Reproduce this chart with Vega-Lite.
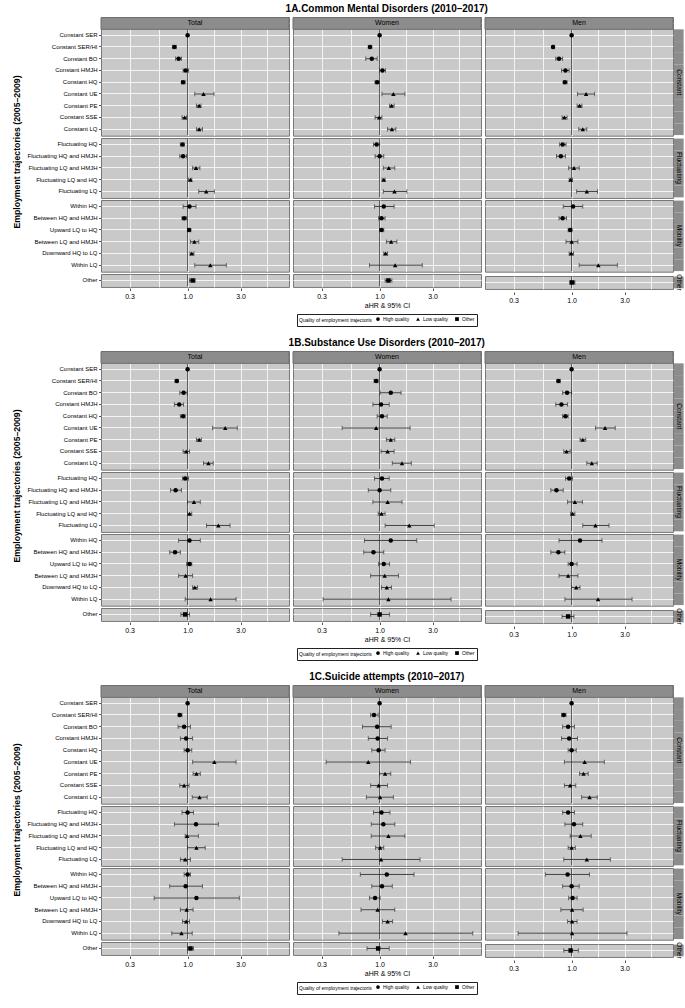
{
"$schema": "https://vega.github.io/schema/vega-lite/v6.json",
"padding": {"left": 13, "top": 3, "right": 1, "bottom": 2},
"background": "white",
"datasets": {"d": [
{"o":"A","s":"Total","g":"Constant","i":"hdr"},
{"o":"A","s":"Total","g":"Constant","i":"Constant SER","q":"High quality","hr":1,"lo":1,"hi":1},
{"o":"A","s":"Total","g":"Constant","i":"Constant SER/HI","q":"High quality","hr":0.76,"lo":0.73,"hi":0.79},
{"o":"A","s":"Total","g":"Constant","i":"Constant BO","q":"High quality","hr":0.83,"lo":0.78,"hi":0.88},
{"o":"A","s":"Total","g":"Constant","i":"Constant HMJH","q":"High quality","hr":0.96,"lo":0.91,"hi":1.02},
{"o":"A","s":"Total","g":"Constant","i":"Constant HQ","q":"High quality","hr":0.91,"lo":0.88,"hi":0.95},
{"o":"A","s":"Total","g":"Constant","i":"Constant UE","q":"Low quality","hr":1.39,"lo":1.16,"hi":1.73},
{"o":"A","s":"Total","g":"Constant","i":"Constant PE","q":"Low quality","hr":1.27,"lo":1.2,"hi":1.32},
{"o":"A","s":"Total","g":"Constant","i":"Constant SSE","q":"Low quality","hr":0.94,"lo":0.89,"hi":0.98},
{"o":"A","s":"Total","g":"Constant","i":"Constant LQ","q":"Low quality","hr":1.27,"lo":1.2,"hi":1.36},
{"o":"A","s":"Total","g":"Fluctuating","i":"Fluctuating HQ","q":"High quality","hr":0.9,"lo":0.86,"hi":0.93},
{"o":"A","s":"Total","g":"Fluctuating","i":"Fluctuating HQ and HMJH","q":"High quality","hr":0.91,"lo":0.85,"hi":0.98},
{"o":"A","s":"Total","g":"Fluctuating","i":"Fluctuating LQ and HMJH","q":"Low quality","hr":1.19,"lo":1.11,"hi":1.29},
{"o":"A","s":"Total","g":"Fluctuating","i":"Fluctuating LQ and HQ","q":"Low quality","hr":1.06,"lo":1.02,"hi":1.09},
{"o":"A","s":"Total","g":"Fluctuating","i":"Fluctuating LQ","q":"Low quality","hr":1.47,"lo":1.26,"hi":1.74},
{"o":"A","s":"Total","g":"Mobility","i":"Within HQ","q":"High quality","hr":1.04,"lo":0.91,"hi":1.19},
{"o":"A","s":"Total","g":"Mobility","i":"Between HQ and HMJH","q":"High quality","hr":0.93,"lo":0.89,"hi":0.98},
{"o":"A","s":"Total","g":"Mobility","i":"Upward LQ to HQ","q":"High quality","hr":1.03,"lo":1.0,"hi":1.07},
{"o":"A","s":"Total","g":"Mobility","i":"Between LQ and HMJH","q":"Low quality","hr":1.15,"lo":1.06,"hi":1.26},
{"o":"A","s":"Total","g":"Mobility","i":"Downward HQ to LQ","q":"Low quality","hr":1.09,"lo":1.05,"hi":1.14},
{"o":"A","s":"Total","g":"Mobility","i":"Within LQ","q":"Low quality","hr":1.6,"lo":1.16,"hi":2.23},
{"o":"A","s":"Total","g":"Other","i":"Other","q":"Other","hr":1.11,"lo":1.04,"hi":1.17},
{"o":"A","s":"Women","g":"Constant","i":"hdr"},
{"o":"A","s":"Women","g":"Constant","i":"Constant SER","q":"High quality","hr":1,"lo":1,"hi":1},
{"o":"A","s":"Women","g":"Constant","i":"Constant SER/HI","q":"High quality","hr":0.82,"lo":0.79,"hi":0.85},
{"o":"A","s":"Women","g":"Constant","i":"Constant BO","q":"High quality","hr":0.85,"lo":0.75,"hi":0.95},
{"o":"A","s":"Women","g":"Constant","i":"Constant HMJH","q":"High quality","hr":1.06,"lo":1.0,"hi":1.13},
{"o":"A","s":"Women","g":"Constant","i":"Constant HQ","q":"High quality","hr":0.95,"lo":0.91,"hi":0.99},
{"o":"A","s":"Women","g":"Constant","i":"Constant UE","q":"Low quality","hr":1.33,"lo":1.05,"hi":1.69},
{"o":"A","s":"Women","g":"Constant","i":"Constant PE","q":"Low quality","hr":1.28,"lo":1.23,"hi":1.35},
{"o":"A","s":"Women","g":"Constant","i":"Constant SSE","q":"Low quality","hr":0.99,"lo":0.91,"hi":1.05},
{"o":"A","s":"Women","g":"Constant","i":"Constant LQ","q":"Low quality","hr":1.29,"lo":1.18,"hi":1.4},
{"o":"A","s":"Women","g":"Fluctuating","i":"Fluctuating HQ","q":"High quality","hr":0.94,"lo":0.88,"hi":1.0},
{"o":"A","s":"Women","g":"Fluctuating","i":"Fluctuating HQ and HMJH","q":"High quality","hr":1.0,"lo":0.91,"hi":1.09},
{"o":"A","s":"Women","g":"Fluctuating","i":"Fluctuating LQ and HMJH","q":"Low quality","hr":1.21,"lo":1.08,"hi":1.37},
{"o":"A","s":"Women","g":"Fluctuating","i":"Fluctuating LQ and HQ","q":"Low quality","hr":1.09,"lo":1.05,"hi":1.12},
{"o":"A","s":"Women","g":"Fluctuating","i":"Fluctuating LQ","q":"Low quality","hr":1.36,"lo":1.08,"hi":1.76},
{"o":"A","s":"Women","g":"Mobility","i":"Within HQ","q":"High quality","hr":1.09,"lo":0.9,"hi":1.35},
{"o":"A","s":"Women","g":"Mobility","i":"Between HQ and HMJH","q":"High quality","hr":1.04,"lo":0.98,"hi":1.12},
{"o":"A","s":"Women","g":"Mobility","i":"Upward LQ to HQ","q":"High quality","hr":1.04,"lo":1.0,"hi":1.09},
{"o":"A","s":"Women","g":"Mobility","i":"Between LQ and HMJH","q":"Low quality","hr":1.27,"lo":1.15,"hi":1.43},
{"o":"A","s":"Women","g":"Mobility","i":"Downward HQ to LQ","q":"Low quality","hr":1.13,"lo":1.09,"hi":1.18},
{"o":"A","s":"Women","g":"Mobility","i":"Within LQ","q":"Low quality","hr":1.38,"lo":0.81,"hi":2.42},
{"o":"A","s":"Women","g":"Other","i":"Other","q":"Other","hr":1.2,"lo":1.12,"hi":1.29},
{"o":"A","s":"Men","g":"Constant","i":"hdr"},
{"o":"A","s":"Men","g":"Constant","i":"Constant SER","q":"High quality","hr":1,"lo":1,"hi":1},
{"o":"A","s":"Men","g":"Constant","i":"Constant SER/HI","q":"High quality","hr":0.68,"lo":0.67,"hi":0.7},
{"o":"A","s":"Men","g":"Constant","i":"Constant BO","q":"High quality","hr":0.77,"lo":0.72,"hi":0.83},
{"o":"A","s":"Men","g":"Constant","i":"Constant HMJH","q":"High quality","hr":0.88,"lo":0.81,"hi":0.95},
{"o":"A","s":"Men","g":"Constant","i":"Constant HQ","q":"High quality","hr":0.87,"lo":0.84,"hi":0.91},
{"o":"A","s":"Men","g":"Constant","i":"Constant UE","q":"Low quality","hr":1.35,"lo":1.13,"hi":1.61},
{"o":"A","s":"Men","g":"Constant","i":"Constant PE","q":"Low quality","hr":1.18,"lo":1.12,"hi":1.24},
{"o":"A","s":"Men","g":"Constant","i":"Constant SSE","q":"Low quality","hr":0.86,"lo":0.82,"hi":0.91},
{"o":"A","s":"Men","g":"Constant","i":"Constant LQ","q":"Low quality","hr":1.26,"lo":1.16,"hi":1.37},
{"o":"A","s":"Men","g":"Fluctuating","i":"Fluctuating HQ","q":"High quality","hr":0.83,"lo":0.78,"hi":0.89},
{"o":"A","s":"Men","g":"Fluctuating","i":"Fluctuating HQ and HMJH","q":"High quality","hr":0.8,"lo":0.73,"hi":0.88},
{"o":"A","s":"Men","g":"Fluctuating","i":"Fluctuating LQ and HMJH","q":"Low quality","hr":1.05,"lo":0.94,"hi":1.17},
{"o":"A","s":"Men","g":"Fluctuating","i":"Fluctuating LQ and HQ","q":"Low quality","hr":0.98,"lo":0.95,"hi":1.02},
{"o":"A","s":"Men","g":"Fluctuating","i":"Fluctuating LQ","q":"Low quality","hr":1.37,"lo":1.11,"hi":1.71},
{"o":"A","s":"Men","g":"Mobility","i":"Within HQ","q":"High quality","hr":1.03,"lo":0.84,"hi":1.26},
{"o":"A","s":"Men","g":"Mobility","i":"Between HQ and HMJH","q":"High quality","hr":0.83,"lo":0.77,"hi":0.9},
{"o":"A","s":"Men","g":"Mobility","i":"Upward LQ to HQ","q":"High quality","hr":0.97,"lo":0.93,"hi":1.01},
{"o":"A","s":"Men","g":"Mobility","i":"Between LQ and HMJH","q":"Low quality","hr":1.0,"lo":0.89,"hi":1.14},
{"o":"A","s":"Men","g":"Mobility","i":"Downward HQ to LQ","q":"Low quality","hr":0.99,"lo":0.95,"hi":1.04},
{"o":"A","s":"Men","g":"Mobility","i":"Within LQ","q":"Low quality","hr":1.74,"lo":1.17,"hi":2.58},
{"o":"A","s":"Men","g":"Other","i":"Other","q":"Other","hr":1.01,"lo":0.96,"hi":1.07},
{"o":"B","s":"Total","g":"Constant","i":"hdr"},
{"o":"B","s":"Total","g":"Constant","i":"Constant SER","q":"High quality","hr":1,"lo":1,"hi":1},
{"o":"B","s":"Total","g":"Constant","i":"Constant SER/HI","q":"High quality","hr":0.8,"lo":0.77,"hi":0.82},
{"o":"B","s":"Total","g":"Constant","i":"Constant BO","q":"High quality","hr":0.92,"lo":0.85,"hi":0.99},
{"o":"B","s":"Total","g":"Constant","i":"Constant HMJH","q":"High quality","hr":0.84,"lo":0.76,"hi":0.92},
{"o":"B","s":"Total","g":"Constant","i":"Constant HQ","q":"High quality","hr":0.91,"lo":0.86,"hi":0.95},
{"o":"B","s":"Total","g":"Constant","i":"Constant UE","q":"Low quality","hr":2.18,"lo":1.68,"hi":2.8},
{"o":"B","s":"Total","g":"Constant","i":"Constant PE","q":"Low quality","hr":1.27,"lo":1.2,"hi":1.33},
{"o":"B","s":"Total","g":"Constant","i":"Constant SSE","q":"Low quality","hr":0.97,"lo":0.91,"hi":1.04},
{"o":"B","s":"Total","g":"Constant","i":"Constant LQ","q":"Low quality","hr":1.54,"lo":1.39,"hi":1.7},
{"o":"B","s":"Total","g":"Fluctuating","i":"Fluctuating HQ","q":"High quality","hr":0.95,"lo":0.9,"hi":1.02},
{"o":"B","s":"Total","g":"Fluctuating","i":"Fluctuating HQ and HMJH","q":"High quality","hr":0.78,"lo":0.7,"hi":0.88},
{"o":"B","s":"Total","g":"Fluctuating","i":"Fluctuating LQ and HMJH","q":"Low quality","hr":1.14,"lo":1.0,"hi":1.3},
{"o":"B","s":"Total","g":"Fluctuating","i":"Fluctuating LQ and HQ","q":"Low quality","hr":1.04,"lo":1.0,"hi":1.09},
{"o":"B","s":"Total","g":"Fluctuating","i":"Fluctuating LQ","q":"Low quality","hr":1.89,"lo":1.48,"hi":2.41},
{"o":"B","s":"Total","g":"Mobility","i":"Within HQ","q":"High quality","hr":1.04,"lo":0.83,"hi":1.3},
{"o":"B","s":"Total","g":"Mobility","i":"Between HQ and HMJH","q":"High quality","hr":0.77,"lo":0.69,"hi":0.86},
{"o":"B","s":"Total","g":"Mobility","i":"Upward LQ to HQ","q":"High quality","hr":1.04,"lo":0.98,"hi":1.09},
{"o":"B","s":"Total","g":"Mobility","i":"Between LQ and HMJH","q":"Low quality","hr":0.96,"lo":0.83,"hi":1.11},
{"o":"B","s":"Total","g":"Mobility","i":"Downward HQ to LQ","q":"Low quality","hr":1.16,"lo":1.11,"hi":1.23},
{"o":"B","s":"Total","g":"Mobility","i":"Within LQ","q":"Low quality","hr":1.61,"lo":0.95,"hi":2.73},
{"o":"B","s":"Total","g":"Other","i":"Other","q":"Other","hr":0.95,"lo":0.87,"hi":1.04},
{"o":"B","s":"Women","g":"Constant","i":"hdr"},
{"o":"B","s":"Women","g":"Constant","i":"Constant SER","q":"High quality","hr":1,"lo":1,"hi":1},
{"o":"B","s":"Women","g":"Constant","i":"Constant SER/HI","q":"High quality","hr":0.93,"lo":0.89,"hi":0.97},
{"o":"B","s":"Women","g":"Constant","i":"Constant BO","q":"High quality","hr":1.26,"lo":1.01,"hi":1.56},
{"o":"B","s":"Women","g":"Constant","i":"Constant HMJH","q":"High quality","hr":1.03,"lo":0.87,"hi":1.22},
{"o":"B","s":"Women","g":"Constant","i":"Constant HQ","q":"High quality","hr":1.05,"lo":0.95,"hi":1.17},
{"o":"B","s":"Women","g":"Constant","i":"Constant UE","q":"Low quality","hr":0.93,"lo":0.46,"hi":1.88},
{"o":"B","s":"Women","g":"Constant","i":"Constant PE","q":"Low quality","hr":1.26,"lo":1.15,"hi":1.37},
{"o":"B","s":"Women","g":"Constant","i":"Constant SSE","q":"Low quality","hr":1.18,"lo":1.03,"hi":1.35},
{"o":"B","s":"Women","g":"Constant","i":"Constant LQ","q":"Low quality","hr":1.59,"lo":1.3,"hi":1.93},
{"o":"B","s":"Women","g":"Fluctuating","i":"Fluctuating HQ","q":"High quality","hr":1.05,"lo":0.9,"hi":1.22},
{"o":"B","s":"Women","g":"Fluctuating","i":"Fluctuating HQ and HMJH","q":"High quality","hr":1.0,"lo":0.79,"hi":1.26},
{"o":"B","s":"Women","g":"Fluctuating","i":"Fluctuating LQ and HMJH","q":"Low quality","hr":1.18,"lo":0.87,"hi":1.59},
{"o":"B","s":"Women","g":"Fluctuating","i":"Fluctuating LQ and HQ","q":"Low quality","hr":1.04,"lo":0.97,"hi":1.12},
{"o":"B","s":"Women","g":"Fluctuating","i":"Fluctuating LQ","q":"Low quality","hr":1.85,"lo":1.12,"hi":3.1},
{"o":"B","s":"Women","g":"Mobility","i":"Within HQ","q":"High quality","hr":1.26,"lo":0.73,"hi":2.16},
{"o":"B","s":"Women","g":"Mobility","i":"Between HQ and HMJH","q":"High quality","hr":0.88,"lo":0.72,"hi":1.09},
{"o":"B","s":"Women","g":"Mobility","i":"Upward LQ to HQ","q":"High quality","hr":1.09,"lo":0.98,"hi":1.23},
{"o":"B","s":"Women","g":"Mobility","i":"Between LQ and HMJH","q":"Low quality","hr":1.11,"lo":0.83,"hi":1.48},
{"o":"B","s":"Women","g":"Mobility","i":"Downward HQ to LQ","q":"Low quality","hr":1.16,"lo":1.04,"hi":1.28},
{"o":"B","s":"Women","g":"Mobility","i":"Within LQ","q":"Low quality","hr":1.2,"lo":0.31,"hi":4.4},
{"o":"B","s":"Women","g":"Other","i":"Other","q":"Other","hr":1.0,"lo":0.83,"hi":1.23},
{"o":"B","s":"Men","g":"Constant","i":"hdr"},
{"o":"B","s":"Men","g":"Constant","i":"Constant SER","q":"High quality","hr":1,"lo":1,"hi":1},
{"o":"B","s":"Men","g":"Constant","i":"Constant SER/HI","q":"High quality","hr":0.76,"lo":0.74,"hi":0.79},
{"o":"B","s":"Men","g":"Constant","i":"Constant BO","q":"High quality","hr":0.91,"lo":0.83,"hi":1.0},
{"o":"B","s":"Men","g":"Constant","i":"Constant HMJH","q":"High quality","hr":0.81,"lo":0.72,"hi":0.92},
{"o":"B","s":"Men","g":"Constant","i":"Constant HQ","q":"High quality","hr":0.88,"lo":0.83,"hi":0.93},
{"o":"B","s":"Men","g":"Constant","i":"Constant UE","q":"Low quality","hr":2.0,"lo":1.64,"hi":2.47},
{"o":"B","s":"Men","g":"Constant","i":"Constant PE","q":"Low quality","hr":1.26,"lo":1.19,"hi":1.34},
{"o":"B","s":"Men","g":"Constant","i":"Constant SSE","q":"Low quality","hr":0.9,"lo":0.85,"hi":0.97},
{"o":"B","s":"Men","g":"Constant","i":"Constant LQ","q":"Low quality","hr":1.52,"lo":1.37,"hi":1.7},
{"o":"B","s":"Men","g":"Fluctuating","i":"Fluctuating HQ","q":"High quality","hr":0.95,"lo":0.88,"hi":1.02},
{"o":"B","s":"Men","g":"Fluctuating","i":"Fluctuating HQ and HMJH","q":"High quality","hr":0.73,"lo":0.65,"hi":0.84},
{"o":"B","s":"Men","g":"Fluctuating","i":"Fluctuating LQ and HMJH","q":"Low quality","hr":1.07,"lo":0.92,"hi":1.25},
{"o":"B","s":"Men","g":"Fluctuating","i":"Fluctuating LQ and HQ","q":"Low quality","hr":1.02,"lo":0.98,"hi":1.07},
{"o":"B","s":"Men","g":"Fluctuating","i":"Fluctuating LQ","q":"Low quality","hr":1.64,"lo":1.26,"hi":2.17},
{"o":"B","s":"Men","g":"Mobility","i":"Within HQ","q":"High quality","hr":1.19,"lo":0.77,"hi":1.88},
{"o":"B","s":"Men","g":"Mobility","i":"Between HQ and HMJH","q":"High quality","hr":0.76,"lo":0.65,"hi":0.87},
{"o":"B","s":"Men","g":"Mobility","i":"Upward LQ to HQ","q":"High quality","hr":1.0,"lo":0.93,"hi":1.12},
{"o":"B","s":"Men","g":"Mobility","i":"Between LQ and HMJH","q":"Low quality","hr":0.93,"lo":0.77,"hi":1.14},
{"o":"B","s":"Men","g":"Mobility","i":"Downward HQ to LQ","q":"Low quality","hr":1.1,"lo":1.0,"hi":1.19},
{"o":"B","s":"Men","g":"Mobility","i":"Within LQ","q":"Low quality","hr":1.73,"lo":0.87,"hi":3.5},
{"o":"B","s":"Men","g":"Other","i":"Other","q":"Other","hr":0.93,"lo":0.82,"hi":1.05},
{"o":"C","s":"Total","g":"Constant","i":"hdr"},
{"o":"C","s":"Total","g":"Constant","i":"Constant SER","q":"High quality","hr":1,"lo":1,"hi":1},
{"o":"C","s":"Total","g":"Constant","i":"Constant SER/HI","q":"High quality","hr":0.85,"lo":0.82,"hi":0.89},
{"o":"C","s":"Total","g":"Constant","i":"Constant BO","q":"High quality","hr":0.93,"lo":0.82,"hi":1.06},
{"o":"C","s":"Total","g":"Constant","i":"Constant HMJH","q":"High quality","hr":0.97,"lo":0.86,"hi":1.11},
{"o":"C","s":"Total","g":"Constant","i":"Constant HQ","q":"High quality","hr":1.0,"lo":0.93,"hi":1.09},
{"o":"C","s":"Total","g":"Constant","i":"Constant UE","q":"Low quality","hr":1.74,"lo":1.11,"hi":2.73},
{"o":"C","s":"Total","g":"Constant","i":"Constant PE","q":"Low quality","hr":1.2,"lo":1.12,"hi":1.3},
{"o":"C","s":"Total","g":"Constant","i":"Constant SSE","q":"Low quality","hr":0.93,"lo":0.85,"hi":1.03},
{"o":"C","s":"Total","g":"Constant","i":"Constant LQ","q":"Low quality","hr":1.28,"lo":1.1,"hi":1.5},
{"o":"C","s":"Total","g":"Fluctuating","i":"Fluctuating HQ","q":"High quality","hr":1.0,"lo":0.89,"hi":1.13},
{"o":"C","s":"Total","g":"Fluctuating","i":"Fluctuating HQ and HMJH","q":"High quality","hr":1.19,"lo":0.76,"hi":1.89},
{"o":"C","s":"Total","g":"Fluctuating","i":"Fluctuating LQ and HMJH","q":"Low quality","hr":0.99,"lo":0.95,"hi":1.25},
{"o":"C","s":"Total","g":"Fluctuating","i":"Fluctuating LQ and HQ","q":"Low quality","hr":1.2,"lo":1.0,"hi":1.44},
{"o":"C","s":"Total","g":"Fluctuating","i":"Fluctuating LQ","q":"Low quality","hr":0.95,"lo":0.86,"hi":1.06},
{"o":"C","s":"Total","g":"Mobility","i":"Within HQ","q":"High quality","hr":1.0,"lo":0.93,"hi":1.06},
{"o":"C","s":"Total","g":"Mobility","i":"Between HQ and HMJH","q":"High quality","hr":0.96,"lo":0.69,"hi":1.36},
{"o":"C","s":"Total","g":"Mobility","i":"Upward LQ to HQ","q":"High quality","hr":1.2,"lo":0.5,"hi":2.92},
{"o":"C","s":"Total","g":"Mobility","i":"Between LQ and HMJH","q":"Low quality","hr":0.98,"lo":0.86,"hi":1.12},
{"o":"C","s":"Total","g":"Mobility","i":"Downward HQ to LQ","q":"Low quality","hr":0.97,"lo":0.9,"hi":1.04},
{"o":"C","s":"Total","g":"Mobility","i":"Within LQ","q":"Low quality","hr":0.88,"lo":0.72,"hi":1.1},
{"o":"C","s":"Total","g":"Other","i":"Other","q":"Other","hr":1.06,"lo":1.0,"hi":1.13},
{"o":"C","s":"Women","g":"Constant","i":"hdr"},
{"o":"C","s":"Women","g":"Constant","i":"Constant SER","q":"High quality","hr":1,"lo":1,"hi":1},
{"o":"C","s":"Women","g":"Constant","i":"Constant SER/HI","q":"High quality","hr":0.89,"lo":0.83,"hi":0.97},
{"o":"C","s":"Women","g":"Constant","i":"Constant BO","q":"High quality","hr":0.95,"lo":0.7,"hi":1.27},
{"o":"C","s":"Women","g":"Constant","i":"Constant HMJH","q":"High quality","hr":0.96,"lo":0.79,"hi":1.18},
{"o":"C","s":"Women","g":"Constant","i":"Constant HQ","q":"High quality","hr":0.98,"lo":0.85,"hi":1.12},
{"o":"C","s":"Women","g":"Constant","i":"Constant UE","q":"Low quality","hr":0.79,"lo":0.33,"hi":1.9},
{"o":"C","s":"Women","g":"Constant","i":"Constant PE","q":"Low quality","hr":1.12,"lo":1.0,"hi":1.26},
{"o":"C","s":"Women","g":"Constant","i":"Constant SSE","q":"Low quality","hr":0.98,"lo":0.83,"hi":1.18},
{"o":"C","s":"Women","g":"Constant","i":"Constant LQ","q":"Low quality","hr":1.01,"lo":0.76,"hi":1.33},
{"o":"C","s":"Women","g":"Fluctuating","i":"Fluctuating HQ","q":"High quality","hr":1.04,"lo":0.88,"hi":1.24},
{"o":"C","s":"Women","g":"Fluctuating","i":"Fluctuating HQ and HMJH","q":"High quality","hr":1.08,"lo":0.84,"hi":1.37},
{"o":"C","s":"Women","g":"Fluctuating","i":"Fluctuating LQ and HMJH","q":"Low quality","hr":1.2,"lo":0.84,"hi":1.69},
{"o":"C","s":"Women","g":"Fluctuating","i":"Fluctuating LQ and HQ","q":"Low quality","hr":1.01,"lo":0.92,"hi":1.09},
{"o":"C","s":"Women","g":"Fluctuating","i":"Fluctuating LQ","q":"Low quality","hr":1.03,"lo":0.46,"hi":2.31},
{"o":"C","s":"Women","g":"Mobility","i":"Within HQ","q":"High quality","hr":1.16,"lo":0.67,"hi":2.04},
{"o":"C","s":"Women","g":"Mobility","i":"Between HQ and HMJH","q":"High quality","hr":1.05,"lo":0.85,"hi":1.3},
{"o":"C","s":"Women","g":"Mobility","i":"Upward LQ to HQ","q":"High quality","hr":0.91,"lo":0.81,"hi":1.01},
{"o":"C","s":"Women","g":"Mobility","i":"Between LQ and HMJH","q":"Low quality","hr":0.96,"lo":0.68,"hi":1.37},
{"o":"C","s":"Women","g":"Mobility","i":"Downward HQ to LQ","q":"Low quality","hr":1.18,"lo":1.06,"hi":1.31},
{"o":"C","s":"Women","g":"Mobility","i":"Within LQ","q":"Low quality","hr":1.71,"lo":0.43,"hi":6.9},
{"o":"C","s":"Women","g":"Other","i":"Other","q":"Other","hr":0.97,"lo":0.77,"hi":1.22},
{"o":"C","s":"Men","g":"Constant","i":"hdr"},
{"o":"C","s":"Men","g":"Constant","i":"Constant SER","q":"High quality","hr":1,"lo":1,"hi":1},
{"o":"C","s":"Men","g":"Constant","i":"Constant SER/HI","q":"High quality","hr":0.85,"lo":0.81,"hi":0.89},
{"o":"C","s":"Men","g":"Constant","i":"Constant BO","q":"High quality","hr":0.93,"lo":0.83,"hi":1.06},
{"o":"C","s":"Men","g":"Constant","i":"Constant HMJH","q":"High quality","hr":0.95,"lo":0.81,"hi":1.13},
{"o":"C","s":"Men","g":"Constant","i":"Constant HQ","q":"High quality","hr":1.0,"lo":0.93,"hi":1.1},
{"o":"C","s":"Men","g":"Constant","i":"Constant UE","q":"Low quality","hr":1.31,"lo":0.86,"hi":1.97},
{"o":"C","s":"Men","g":"Constant","i":"Constant PE","q":"Low quality","hr":1.28,"lo":1.18,"hi":1.41},
{"o":"C","s":"Men","g":"Constant","i":"Constant SSE","q":"Low quality","hr":0.97,"lo":0.86,"hi":1.09},
{"o":"C","s":"Men","g":"Constant","i":"Constant LQ","q":"Low quality","hr":1.45,"lo":1.23,"hi":1.7},
{"o":"C","s":"Men","g":"Fluctuating","i":"Fluctuating HQ","q":"High quality","hr":0.93,"lo":0.83,"hi":1.06},
{"o":"C","s":"Men","g":"Fluctuating","i":"Fluctuating HQ and HMJH","q":"High quality","hr":1.05,"lo":0.87,"hi":1.26},
{"o":"C","s":"Men","g":"Fluctuating","i":"Fluctuating LQ and HMJH","q":"Low quality","hr":1.2,"lo":0.97,"hi":1.5},
{"o":"C","s":"Men","g":"Fluctuating","i":"Fluctuating LQ and HQ","q":"Low quality","hr":1.0,"lo":0.93,"hi":1.08},
{"o":"C","s":"Men","g":"Fluctuating","i":"Fluctuating LQ","q":"Low quality","hr":1.37,"lo":0.85,"hi":2.23},
{"o":"C","s":"Men","g":"Mobility","i":"Within HQ","q":"High quality","hr":0.92,"lo":0.58,"hi":1.45},
{"o":"C","s":"Men","g":"Mobility","i":"Between HQ and HMJH","q":"High quality","hr":1.0,"lo":0.83,"hi":1.17},
{"o":"C","s":"Men","g":"Mobility","i":"Upward LQ to HQ","q":"High quality","hr":1.02,"lo":0.94,"hi":1.12},
{"o":"C","s":"Men","g":"Mobility","i":"Between LQ and HMJH","q":"Low quality","hr":1.01,"lo":0.8,"hi":1.27},
{"o":"C","s":"Men","g":"Mobility","i":"Downward HQ to LQ","q":"Low quality","hr":1.01,"lo":0.92,"hi":1.12},
{"o":"C","s":"Men","g":"Mobility","i":"Within LQ","q":"Low quality","hr":1.01,"lo":0.33,"hi":3.15},
{"o":"C","s":"Men","g":"Other","i":"Other","q":"Other","hr":0.98,"lo":0.85,"hi":1.15}
]},
"data": {"name": "d"},
"spacing": 10,
"resolve": {"scale": {"shape": "independent"}, "legend": {"shape": "independent"}},
"vconcat": [
{"title": {"text": "1A.Common Mental Disorders (2010–2017)", "dx": 38}, "spacing": 2, "resolve": {"scale": {"shape": "independent"}, "legend": {"shape": "independent"}}, "hconcat": [
{"transform": [{"filter": "datum.o == 'A' && datum.s == 'Total'"}],
 "facet": {"row": {"field": "g", "type": "nominal", "sort": ["Constant","Fluctuating","Mobility","Other"], "header": {"labels": false, "labelPadding": 0, "title": "Employment trajectories (2005–2009)", "titleOrient": "left", "titleAngle": -90, "titleFontSize": 8.7, "titleFontWeight": "bold", "titlePadding": -15}}},
 "spacing": 0, "resolve": {"scale": {"y": "independent"}},
 "spec": {"width": 188, "height": {"step": 11.75},
  "encoding": {"y": {"field": "i", "type": "nominal", "sort": ["hdr","Constant SER","Constant SER/HI","Constant BO","Constant HMJH","Constant HQ","Constant UE","Constant PE","Constant SSE","Constant LQ","Fluctuating HQ","Fluctuating HQ and HMJH","Fluctuating LQ and HMJH","Fluctuating LQ and HQ","Fluctuating LQ","Within HQ","Between HQ and HMJH","Upward LQ to HQ","Between LQ and HMJH","Downward HQ to LQ","Within LQ","Other"], "scale": {"type": "band", "paddingInner": 0, "paddingOuter": 0.05}, "axis": {"title": null, "bandPosition": 0.5, "labelFontSize": 6, "labelLimit": 200, "labelExpr": "datum.value == 'hdr' ? '' : datum.value", "tickOpacity": {"condition": {"test": "datum.value == 'hdr'", "value": 0}, "value": 1}}}},
  "layer": [
   {"mark": {"type": "tick", "color": "#1a1a1a", "thickness": 1, "size": 11.75}, "encoding": {"x": {"datum": 1}}},
   {"transform": [{"filter": "datum.i != 'hdr'"}], "mark": {"type": "errorbar", "ticks": {"size": 4.5}, "color": "#2b2b2b", "thickness": 0.9}, "encoding": {"x": {"field": "lo", "type": "quantitative", "title": null}, "x2": {"field": "hi"}}},
   {"transform": [{"filter": "datum.i != 'hdr'"}], "mark": {"type": "point", "filled": true, "opacity": 1, "size": 20, "color": "black"}, "encoding": {"x": {"field": "hr", "type": "quantitative", "scale": {"type": "log", "domain": [0.166, 8.18], "nice": false}, "axis": {"title": null, "values": [0.3,0.548,1,1.732,3,5.196], "labelExpr": "(datum.value == 0.3 || datum.value == 1 || datum.value == 3) ? format(datum.value, '.1f') : ''", "tickOpacity": {"condition": {"test": "datum.value == 0.3 || datum.value == 1 || datum.value == 3", "value": 1}, "value": 0}}}, "shape": {"field": "q", "type": "nominal", "scale": {"domain": ["High quality","Low quality","Other"], "range": ["circle","triangle-up","square"]}, "legend": null}}},
   {"transform": [{"filter": "datum.i == 'hdr'"}], "mark": {"type": "rect", "fill": "#8c8c8c", "stroke": "#6e6e6e", "strokeWidth": 1}, "encoding": {"x": {"datum": 0.166}, "x2": {"datum": 8.18}}},
   {"transform": [{"filter": "datum.i == 'hdr'"}], "mark": {"type": "text", "fontSize": 7, "color": "black", "baseline": "middle"}, "encoding": {"x": {"datum": 1.165}, "text": {"field": "s"}}}
  ]}},
{"transform": [{"filter": "datum.o == 'A' && datum.s == 'Women'"}],
 "facet": {"row": {"field": "g", "type": "nominal", "sort": ["Constant","Fluctuating","Mobility","Other"], "header": {"labels": false, "labelPadding": 0, "title": null}}},
 "spacing": 0, "resolve": {"scale": {"y": "independent"}},
 "spec": {"width": 188, "height": {"step": 11.75},
  "encoding": {"y": {"field": "i", "type": "nominal", "sort": ["hdr","Constant SER","Constant SER/HI","Constant BO","Constant HMJH","Constant HQ","Constant UE","Constant PE","Constant SSE","Constant LQ","Fluctuating HQ","Fluctuating HQ and HMJH","Fluctuating LQ and HMJH","Fluctuating LQ and HQ","Fluctuating LQ","Within HQ","Between HQ and HMJH","Upward LQ to HQ","Between LQ and HMJH","Downward HQ to LQ","Within LQ","Other"], "scale": {"type": "band", "paddingInner": 0, "paddingOuter": 0.05}, "axis": {"title": null, "bandPosition": 0.5, "labels": false, "ticks": false}}},
  "layer": [
   {"mark": {"type": "tick", "color": "#1a1a1a", "thickness": 1, "size": 11.75}, "encoding": {"x": {"datum": 1}}},
   {"transform": [{"filter": "datum.i != 'hdr'"}], "mark": {"type": "errorbar", "ticks": {"size": 4.5}, "color": "#2b2b2b", "thickness": 0.9}, "encoding": {"x": {"field": "lo", "type": "quantitative", "title": "aHR & 95% CI"}, "x2": {"field": "hi"}}},
   {"transform": [{"filter": "datum.i != 'hdr'"}], "mark": {"type": "point", "filled": true, "opacity": 1, "size": 20, "color": "black"}, "encoding": {"x": {"field": "hr", "type": "quantitative", "scale": {"type": "log", "domain": [0.166, 8.18], "nice": false}, "axis": {"title": "aHR & 95% CI", "values": [0.3,0.548,1,1.732,3,5.196], "labelExpr": "(datum.value == 0.3 || datum.value == 1 || datum.value == 3) ? format(datum.value, '.1f') : ''", "tickOpacity": {"condition": {"test": "datum.value == 0.3 || datum.value == 1 || datum.value == 3", "value": 1}, "value": 0}}}, "shape": {"field": "q", "type": "nominal", "scale": {"domain": ["High quality","Low quality","Other"], "range": ["circle","triangle-up","square"]}, "legend": {"title": "Quality of employment trajectoris"}}}},
   {"transform": [{"filter": "datum.i == 'hdr'"}], "mark": {"type": "rect", "fill": "#8c8c8c", "stroke": "#6e6e6e", "strokeWidth": 1}, "encoding": {"x": {"datum": 0.166}, "x2": {"datum": 8.18}}},
   {"transform": [{"filter": "datum.i == 'hdr'"}], "mark": {"type": "text", "fontSize": 7, "color": "black", "baseline": "middle"}, "encoding": {"x": {"datum": 1.165}, "text": {"field": "s"}}}
  ]}},
{"transform": [{"filter": "datum.o == 'A' && datum.s == 'Men'"}],
 "facet": {"row": {"field": "g", "type": "nominal", "sort": ["Constant","Fluctuating","Mobility","Other"], "header": {"labels": false, "labelPadding": 0, "title": null}}},
 "spacing": 0, "resolve": {"scale": {"y": "independent"}},
 "spec": {"width": 188, "height": {"step": 11.75},
  "encoding": {"y": {"field": "i", "type": "nominal", "sort": ["hdr","Constant SER","Constant SER/HI","Constant BO","Constant HMJH","Constant HQ","Constant UE","Constant PE","Constant SSE","Constant LQ","Fluctuating HQ","Fluctuating HQ and HMJH","Fluctuating LQ and HMJH","Fluctuating LQ and HQ","Fluctuating LQ","Within HQ","Between HQ and HMJH","Upward LQ to HQ","Between LQ and HMJH","Downward HQ to LQ","Within LQ","Other"], "scale": {"type": "band", "paddingInner": 0, "paddingOuter": 0.05}, "axis": {"title": null, "bandPosition": 0.5, "labels": false, "ticks": false}}},
  "layer": [
   {"mark": {"type": "tick", "color": "#1a1a1a", "thickness": 1, "size": 11.75}, "encoding": {"x": {"datum": 1}}},
   {"transform": [{"filter": "datum.i != 'hdr'"}], "mark": {"type": "errorbar", "ticks": {"size": 4.5}, "color": "#2b2b2b", "thickness": 0.9}, "encoding": {"x": {"field": "lo", "type": "quantitative", "title": null}, "x2": {"field": "hi"}}},
   {"transform": [{"filter": "datum.i != 'hdr'"}], "mark": {"type": "point", "filled": true, "opacity": 1, "size": 20, "color": "black"}, "encoding": {"x": {"field": "hr", "type": "quantitative", "scale": {"type": "log", "domain": [0.166, 8.18], "nice": false}, "axis": {"title": null, "values": [0.3,0.548,1,1.732,3,5.196], "labelExpr": "(datum.value == 0.3 || datum.value == 1 || datum.value == 3) ? format(datum.value, '.1f') : ''", "tickOpacity": {"condition": {"test": "datum.value == 0.3 || datum.value == 1 || datum.value == 3", "value": 1}, "value": 0}}}, "shape": {"field": "q", "type": "nominal", "scale": {"domain": ["High quality","Low quality","Other"], "range": ["circle","triangle-up","square"]}, "legend": null}}},
   {"transform": [{"filter": "datum.i == 'hdr'"}], "mark": {"type": "rect", "fill": "#8c8c8c", "stroke": "#6e6e6e", "strokeWidth": 1}, "encoding": {"x": {"datum": 0.166}, "x2": {"datum": 8.18}}},
   {"transform": [{"filter": "datum.i == 'hdr'"}], "mark": {"type": "text", "fontSize": 7, "color": "black", "baseline": "middle"}, "encoding": {"x": {"datum": 1.165}, "text": {"field": "s"}}},
   {"transform": [{"filter": "datum.i != 'hdr'"}], "mark": {"type": "rect", "clip": false, "fill": "#8c8c8c", "strokeWidth": 0}, "encoding": {"x": {"datum": 8.35}, "x2": {"datum": 10.2}}},
   {"transform": [{"filter": "datum.i == 'Constant HQ' || datum.i == 'Fluctuating LQ and HMJH' || datum.i == 'Other'"}], "mark": {"type": "text", "angle": 90, "fontSize": 6.5, "color": "black", "baseline": "middle", "align": "center"}, "encoding": {"x": {"datum": 9.23}, "text": {"field": "g"}}},
   {"transform": [{"filter": "datum.i == 'Upward LQ to HQ'"}], "mark": {"type": "text", "angle": 90, "fontSize": 6.5, "color": "black", "baseline": "middle", "align": "center"}, "encoding": {"x": {"datum": 9.23}, "y": {"field": "i", "type": "nominal", "sort": ["hdr","Constant SER","Constant SER/HI","Constant BO","Constant HMJH","Constant HQ","Constant UE","Constant PE","Constant SSE","Constant LQ","Fluctuating HQ","Fluctuating HQ and HMJH","Fluctuating LQ and HMJH","Fluctuating LQ and HQ","Fluctuating LQ","Within HQ","Between HQ and HMJH","Upward LQ to HQ","Between LQ and HMJH","Downward HQ to LQ","Within LQ","Other"], "bandPosition": 1}, "text": {"field": "g"}}}
  ]}}
]},
{"title": {"text": "1B.Substance Use Disorders (2010–2017)", "dx": 38}, "spacing": 2, "resolve": {"scale": {"shape": "independent"}, "legend": {"shape": "independent"}}, "hconcat": [
{"transform": [{"filter": "datum.o == 'B' && datum.s == 'Total'"}],
 "facet": {"row": {"field": "g", "type": "nominal", "sort": ["Constant","Fluctuating","Mobility","Other"], "header": {"labels": false, "labelPadding": 0, "title": "Employment trajectories (2005–2009)", "titleOrient": "left", "titleAngle": -90, "titleFontSize": 8.7, "titleFontWeight": "bold", "titlePadding": -15}}},
 "spacing": 0, "resolve": {"scale": {"y": "independent"}},
 "spec": {"width": 188, "height": {"step": 11.75},
  "encoding": {"y": {"field": "i", "type": "nominal", "sort": ["hdr","Constant SER","Constant SER/HI","Constant BO","Constant HMJH","Constant HQ","Constant UE","Constant PE","Constant SSE","Constant LQ","Fluctuating HQ","Fluctuating HQ and HMJH","Fluctuating LQ and HMJH","Fluctuating LQ and HQ","Fluctuating LQ","Within HQ","Between HQ and HMJH","Upward LQ to HQ","Between LQ and HMJH","Downward HQ to LQ","Within LQ","Other"], "scale": {"type": "band", "paddingInner": 0, "paddingOuter": 0.05}, "axis": {"title": null, "bandPosition": 0.5, "labelFontSize": 6, "labelLimit": 200, "labelExpr": "datum.value == 'hdr' ? '' : datum.value", "tickOpacity": {"condition": {"test": "datum.value == 'hdr'", "value": 0}, "value": 1}}}},
  "layer": [
   {"mark": {"type": "tick", "color": "#1a1a1a", "thickness": 1, "size": 11.75}, "encoding": {"x": {"datum": 1}}},
   {"transform": [{"filter": "datum.i != 'hdr'"}], "mark": {"type": "errorbar", "ticks": {"size": 4.5}, "color": "#2b2b2b", "thickness": 0.9}, "encoding": {"x": {"field": "lo", "type": "quantitative", "title": null}, "x2": {"field": "hi"}}},
   {"transform": [{"filter": "datum.i != 'hdr'"}], "mark": {"type": "point", "filled": true, "opacity": 1, "size": 20, "color": "black"}, "encoding": {"x": {"field": "hr", "type": "quantitative", "scale": {"type": "log", "domain": [0.166, 8.18], "nice": false}, "axis": {"title": null, "values": [0.3,0.548,1,1.732,3,5.196], "labelExpr": "(datum.value == 0.3 || datum.value == 1 || datum.value == 3) ? format(datum.value, '.1f') : ''", "tickOpacity": {"condition": {"test": "datum.value == 0.3 || datum.value == 1 || datum.value == 3", "value": 1}, "value": 0}}}, "shape": {"field": "q", "type": "nominal", "scale": {"domain": ["High quality","Low quality","Other"], "range": ["circle","triangle-up","square"]}, "legend": null}}},
   {"transform": [{"filter": "datum.i == 'hdr'"}], "mark": {"type": "rect", "fill": "#8c8c8c", "stroke": "#6e6e6e", "strokeWidth": 1}, "encoding": {"x": {"datum": 0.166}, "x2": {"datum": 8.18}}},
   {"transform": [{"filter": "datum.i == 'hdr'"}], "mark": {"type": "text", "fontSize": 7, "color": "black", "baseline": "middle"}, "encoding": {"x": {"datum": 1.165}, "text": {"field": "s"}}}
  ]}},
{"transform": [{"filter": "datum.o == 'B' && datum.s == 'Women'"}],
 "facet": {"row": {"field": "g", "type": "nominal", "sort": ["Constant","Fluctuating","Mobility","Other"], "header": {"labels": false, "labelPadding": 0, "title": null}}},
 "spacing": 0, "resolve": {"scale": {"y": "independent"}},
 "spec": {"width": 188, "height": {"step": 11.75},
  "encoding": {"y": {"field": "i", "type": "nominal", "sort": ["hdr","Constant SER","Constant SER/HI","Constant BO","Constant HMJH","Constant HQ","Constant UE","Constant PE","Constant SSE","Constant LQ","Fluctuating HQ","Fluctuating HQ and HMJH","Fluctuating LQ and HMJH","Fluctuating LQ and HQ","Fluctuating LQ","Within HQ","Between HQ and HMJH","Upward LQ to HQ","Between LQ and HMJH","Downward HQ to LQ","Within LQ","Other"], "scale": {"type": "band", "paddingInner": 0, "paddingOuter": 0.05}, "axis": {"title": null, "bandPosition": 0.5, "labels": false, "ticks": false}}},
  "layer": [
   {"mark": {"type": "tick", "color": "#1a1a1a", "thickness": 1, "size": 11.75}, "encoding": {"x": {"datum": 1}}},
   {"transform": [{"filter": "datum.i != 'hdr'"}], "mark": {"type": "errorbar", "ticks": {"size": 4.5}, "color": "#2b2b2b", "thickness": 0.9}, "encoding": {"x": {"field": "lo", "type": "quantitative", "title": "aHR & 95% CI"}, "x2": {"field": "hi"}}},
   {"transform": [{"filter": "datum.i != 'hdr'"}], "mark": {"type": "point", "filled": true, "opacity": 1, "size": 20, "color": "black"}, "encoding": {"x": {"field": "hr", "type": "quantitative", "scale": {"type": "log", "domain": [0.166, 8.18], "nice": false}, "axis": {"title": "aHR & 95% CI", "values": [0.3,0.548,1,1.732,3,5.196], "labelExpr": "(datum.value == 0.3 || datum.value == 1 || datum.value == 3) ? format(datum.value, '.1f') : ''", "tickOpacity": {"condition": {"test": "datum.value == 0.3 || datum.value == 1 || datum.value == 3", "value": 1}, "value": 0}}}, "shape": {"field": "q", "type": "nominal", "scale": {"domain": ["High quality","Low quality","Other"], "range": ["circle","triangle-up","square"]}, "legend": {"title": "Quality of employment trajectoris"}}}},
   {"transform": [{"filter": "datum.i == 'hdr'"}], "mark": {"type": "rect", "fill": "#8c8c8c", "stroke": "#6e6e6e", "strokeWidth": 1}, "encoding": {"x": {"datum": 0.166}, "x2": {"datum": 8.18}}},
   {"transform": [{"filter": "datum.i == 'hdr'"}], "mark": {"type": "text", "fontSize": 7, "color": "black", "baseline": "middle"}, "encoding": {"x": {"datum": 1.165}, "text": {"field": "s"}}}
  ]}},
{"transform": [{"filter": "datum.o == 'B' && datum.s == 'Men'"}],
 "facet": {"row": {"field": "g", "type": "nominal", "sort": ["Constant","Fluctuating","Mobility","Other"], "header": {"labels": false, "labelPadding": 0, "title": null}}},
 "spacing": 0, "resolve": {"scale": {"y": "independent"}},
 "spec": {"width": 188, "height": {"step": 11.75},
  "encoding": {"y": {"field": "i", "type": "nominal", "sort": ["hdr","Constant SER","Constant SER/HI","Constant BO","Constant HMJH","Constant HQ","Constant UE","Constant PE","Constant SSE","Constant LQ","Fluctuating HQ","Fluctuating HQ and HMJH","Fluctuating LQ and HMJH","Fluctuating LQ and HQ","Fluctuating LQ","Within HQ","Between HQ and HMJH","Upward LQ to HQ","Between LQ and HMJH","Downward HQ to LQ","Within LQ","Other"], "scale": {"type": "band", "paddingInner": 0, "paddingOuter": 0.05}, "axis": {"title": null, "bandPosition": 0.5, "labels": false, "ticks": false}}},
  "layer": [
   {"mark": {"type": "tick", "color": "#1a1a1a", "thickness": 1, "size": 11.75}, "encoding": {"x": {"datum": 1}}},
   {"transform": [{"filter": "datum.i != 'hdr'"}], "mark": {"type": "errorbar", "ticks": {"size": 4.5}, "color": "#2b2b2b", "thickness": 0.9}, "encoding": {"x": {"field": "lo", "type": "quantitative", "title": null}, "x2": {"field": "hi"}}},
   {"transform": [{"filter": "datum.i != 'hdr'"}], "mark": {"type": "point", "filled": true, "opacity": 1, "size": 20, "color": "black"}, "encoding": {"x": {"field": "hr", "type": "quantitative", "scale": {"type": "log", "domain": [0.166, 8.18], "nice": false}, "axis": {"title": null, "values": [0.3,0.548,1,1.732,3,5.196], "labelExpr": "(datum.value == 0.3 || datum.value == 1 || datum.value == 3) ? format(datum.value, '.1f') : ''", "tickOpacity": {"condition": {"test": "datum.value == 0.3 || datum.value == 1 || datum.value == 3", "value": 1}, "value": 0}}}, "shape": {"field": "q", "type": "nominal", "scale": {"domain": ["High quality","Low quality","Other"], "range": ["circle","triangle-up","square"]}, "legend": null}}},
   {"transform": [{"filter": "datum.i == 'hdr'"}], "mark": {"type": "rect", "fill": "#8c8c8c", "stroke": "#6e6e6e", "strokeWidth": 1}, "encoding": {"x": {"datum": 0.166}, "x2": {"datum": 8.18}}},
   {"transform": [{"filter": "datum.i == 'hdr'"}], "mark": {"type": "text", "fontSize": 7, "color": "black", "baseline": "middle"}, "encoding": {"x": {"datum": 1.165}, "text": {"field": "s"}}},
   {"transform": [{"filter": "datum.i != 'hdr'"}], "mark": {"type": "rect", "clip": false, "fill": "#8c8c8c", "strokeWidth": 0}, "encoding": {"x": {"datum": 8.35}, "x2": {"datum": 10.2}}},
   {"transform": [{"filter": "datum.i == 'Constant HQ' || datum.i == 'Fluctuating LQ and HMJH' || datum.i == 'Other'"}], "mark": {"type": "text", "angle": 90, "fontSize": 6.5, "color": "black", "baseline": "middle", "align": "center"}, "encoding": {"x": {"datum": 9.23}, "text": {"field": "g"}}},
   {"transform": [{"filter": "datum.i == 'Upward LQ to HQ'"}], "mark": {"type": "text", "angle": 90, "fontSize": 6.5, "color": "black", "baseline": "middle", "align": "center"}, "encoding": {"x": {"datum": 9.23}, "y": {"field": "i", "type": "nominal", "sort": ["hdr","Constant SER","Constant SER/HI","Constant BO","Constant HMJH","Constant HQ","Constant UE","Constant PE","Constant SSE","Constant LQ","Fluctuating HQ","Fluctuating HQ and HMJH","Fluctuating LQ and HMJH","Fluctuating LQ and HQ","Fluctuating LQ","Within HQ","Between HQ and HMJH","Upward LQ to HQ","Between LQ and HMJH","Downward HQ to LQ","Within LQ","Other"], "bandPosition": 1}, "text": {"field": "g"}}}
  ]}}
]},
{"title": {"text": "1C.Suicide attempts (2010–2017)", "dx": 38}, "spacing": 2, "resolve": {"scale": {"shape": "independent"}, "legend": {"shape": "independent"}}, "hconcat": [
{"transform": [{"filter": "datum.o == 'C' && datum.s == 'Total'"}],
 "facet": {"row": {"field": "g", "type": "nominal", "sort": ["Constant","Fluctuating","Mobility","Other"], "header": {"labels": false, "labelPadding": 0, "title": "Employment trajectories (2005–2009)", "titleOrient": "left", "titleAngle": -90, "titleFontSize": 8.7, "titleFontWeight": "bold", "titlePadding": -15}}},
 "spacing": 0, "resolve": {"scale": {"y": "independent"}},
 "spec": {"width": 188, "height": {"step": 11.75},
  "encoding": {"y": {"field": "i", "type": "nominal", "sort": ["hdr","Constant SER","Constant SER/HI","Constant BO","Constant HMJH","Constant HQ","Constant UE","Constant PE","Constant SSE","Constant LQ","Fluctuating HQ","Fluctuating HQ and HMJH","Fluctuating LQ and HMJH","Fluctuating LQ and HQ","Fluctuating LQ","Within HQ","Between HQ and HMJH","Upward LQ to HQ","Between LQ and HMJH","Downward HQ to LQ","Within LQ","Other"], "scale": {"type": "band", "paddingInner": 0, "paddingOuter": 0.05}, "axis": {"title": null, "bandPosition": 0.5, "labelFontSize": 6, "labelLimit": 200, "labelExpr": "datum.value == 'hdr' ? '' : datum.value", "tickOpacity": {"condition": {"test": "datum.value == 'hdr'", "value": 0}, "value": 1}}}},
  "layer": [
   {"mark": {"type": "tick", "color": "#1a1a1a", "thickness": 1, "size": 11.75}, "encoding": {"x": {"datum": 1}}},
   {"transform": [{"filter": "datum.i != 'hdr'"}], "mark": {"type": "errorbar", "ticks": {"size": 4.5}, "color": "#2b2b2b", "thickness": 0.9}, "encoding": {"x": {"field": "lo", "type": "quantitative", "title": null}, "x2": {"field": "hi"}}},
   {"transform": [{"filter": "datum.i != 'hdr'"}], "mark": {"type": "point", "filled": true, "opacity": 1, "size": 20, "color": "black"}, "encoding": {"x": {"field": "hr", "type": "quantitative", "scale": {"type": "log", "domain": [0.166, 8.18], "nice": false}, "axis": {"title": null, "values": [0.3,0.548,1,1.732,3,5.196], "labelExpr": "(datum.value == 0.3 || datum.value == 1 || datum.value == 3) ? format(datum.value, '.1f') : ''", "tickOpacity": {"condition": {"test": "datum.value == 0.3 || datum.value == 1 || datum.value == 3", "value": 1}, "value": 0}}}, "shape": {"field": "q", "type": "nominal", "scale": {"domain": ["High quality","Low quality","Other"], "range": ["circle","triangle-up","square"]}, "legend": null}}},
   {"transform": [{"filter": "datum.i == 'hdr'"}], "mark": {"type": "rect", "fill": "#8c8c8c", "stroke": "#6e6e6e", "strokeWidth": 1}, "encoding": {"x": {"datum": 0.166}, "x2": {"datum": 8.18}}},
   {"transform": [{"filter": "datum.i == 'hdr'"}], "mark": {"type": "text", "fontSize": 7, "color": "black", "baseline": "middle"}, "encoding": {"x": {"datum": 1.165}, "text": {"field": "s"}}}
  ]}},
{"transform": [{"filter": "datum.o == 'C' && datum.s == 'Women'"}],
 "facet": {"row": {"field": "g", "type": "nominal", "sort": ["Constant","Fluctuating","Mobility","Other"], "header": {"labels": false, "labelPadding": 0, "title": null}}},
 "spacing": 0, "resolve": {"scale": {"y": "independent"}},
 "spec": {"width": 188, "height": {"step": 11.75},
  "encoding": {"y": {"field": "i", "type": "nominal", "sort": ["hdr","Constant SER","Constant SER/HI","Constant BO","Constant HMJH","Constant HQ","Constant UE","Constant PE","Constant SSE","Constant LQ","Fluctuating HQ","Fluctuating HQ and HMJH","Fluctuating LQ and HMJH","Fluctuating LQ and HQ","Fluctuating LQ","Within HQ","Between HQ and HMJH","Upward LQ to HQ","Between LQ and HMJH","Downward HQ to LQ","Within LQ","Other"], "scale": {"type": "band", "paddingInner": 0, "paddingOuter": 0.05}, "axis": {"title": null, "bandPosition": 0.5, "labels": false, "ticks": false}}},
  "layer": [
   {"mark": {"type": "tick", "color": "#1a1a1a", "thickness": 1, "size": 11.75}, "encoding": {"x": {"datum": 1}}},
   {"transform": [{"filter": "datum.i != 'hdr'"}], "mark": {"type": "errorbar", "ticks": {"size": 4.5}, "color": "#2b2b2b", "thickness": 0.9}, "encoding": {"x": {"field": "lo", "type": "quantitative", "title": "aHR & 95% CI"}, "x2": {"field": "hi"}}},
   {"transform": [{"filter": "datum.i != 'hdr'"}], "mark": {"type": "point", "filled": true, "opacity": 1, "size": 20, "color": "black"}, "encoding": {"x": {"field": "hr", "type": "quantitative", "scale": {"type": "log", "domain": [0.166, 8.18], "nice": false}, "axis": {"title": "aHR & 95% CI", "values": [0.3,0.548,1,1.732,3,5.196], "labelExpr": "(datum.value == 0.3 || datum.value == 1 || datum.value == 3) ? format(datum.value, '.1f') : ''", "tickOpacity": {"condition": {"test": "datum.value == 0.3 || datum.value == 1 || datum.value == 3", "value": 1}, "value": 0}}}, "shape": {"field": "q", "type": "nominal", "scale": {"domain": ["High quality","Low quality","Other"], "range": ["circle","triangle-up","square"]}, "legend": {"title": "Quality of employment trajectoris"}}}},
   {"transform": [{"filter": "datum.i == 'hdr'"}], "mark": {"type": "rect", "fill": "#8c8c8c", "stroke": "#6e6e6e", "strokeWidth": 1}, "encoding": {"x": {"datum": 0.166}, "x2": {"datum": 8.18}}},
   {"transform": [{"filter": "datum.i == 'hdr'"}], "mark": {"type": "text", "fontSize": 7, "color": "black", "baseline": "middle"}, "encoding": {"x": {"datum": 1.165}, "text": {"field": "s"}}}
  ]}},
{"transform": [{"filter": "datum.o == 'C' && datum.s == 'Men'"}],
 "facet": {"row": {"field": "g", "type": "nominal", "sort": ["Constant","Fluctuating","Mobility","Other"], "header": {"labels": false, "labelPadding": 0, "title": null}}},
 "spacing": 0, "resolve": {"scale": {"y": "independent"}},
 "spec": {"width": 188, "height": {"step": 11.75},
  "encoding": {"y": {"field": "i", "type": "nominal", "sort": ["hdr","Constant SER","Constant SER/HI","Constant BO","Constant HMJH","Constant HQ","Constant UE","Constant PE","Constant SSE","Constant LQ","Fluctuating HQ","Fluctuating HQ and HMJH","Fluctuating LQ and HMJH","Fluctuating LQ and HQ","Fluctuating LQ","Within HQ","Between HQ and HMJH","Upward LQ to HQ","Between LQ and HMJH","Downward HQ to LQ","Within LQ","Other"], "scale": {"type": "band", "paddingInner": 0, "paddingOuter": 0.05}, "axis": {"title": null, "bandPosition": 0.5, "labels": false, "ticks": false}}},
  "layer": [
   {"mark": {"type": "tick", "color": "#1a1a1a", "thickness": 1, "size": 11.75}, "encoding": {"x": {"datum": 1}}},
   {"transform": [{"filter": "datum.i != 'hdr'"}], "mark": {"type": "errorbar", "ticks": {"size": 4.5}, "color": "#2b2b2b", "thickness": 0.9}, "encoding": {"x": {"field": "lo", "type": "quantitative", "title": null}, "x2": {"field": "hi"}}},
   {"transform": [{"filter": "datum.i != 'hdr'"}], "mark": {"type": "point", "filled": true, "opacity": 1, "size": 20, "color": "black"}, "encoding": {"x": {"field": "hr", "type": "quantitative", "scale": {"type": "log", "domain": [0.166, 8.18], "nice": false}, "axis": {"title": null, "values": [0.3,0.548,1,1.732,3,5.196], "labelExpr": "(datum.value == 0.3 || datum.value == 1 || datum.value == 3) ? format(datum.value, '.1f') : ''", "tickOpacity": {"condition": {"test": "datum.value == 0.3 || datum.value == 1 || datum.value == 3", "value": 1}, "value": 0}}}, "shape": {"field": "q", "type": "nominal", "scale": {"domain": ["High quality","Low quality","Other"], "range": ["circle","triangle-up","square"]}, "legend": null}}},
   {"transform": [{"filter": "datum.i == 'hdr'"}], "mark": {"type": "rect", "fill": "#8c8c8c", "stroke": "#6e6e6e", "strokeWidth": 1}, "encoding": {"x": {"datum": 0.166}, "x2": {"datum": 8.18}}},
   {"transform": [{"filter": "datum.i == 'hdr'"}], "mark": {"type": "text", "fontSize": 7, "color": "black", "baseline": "middle"}, "encoding": {"x": {"datum": 1.165}, "text": {"field": "s"}}},
   {"transform": [{"filter": "datum.i != 'hdr'"}], "mark": {"type": "rect", "clip": false, "fill": "#8c8c8c", "strokeWidth": 0}, "encoding": {"x": {"datum": 8.35}, "x2": {"datum": 10.2}}},
   {"transform": [{"filter": "datum.i == 'Constant HQ' || datum.i == 'Fluctuating LQ and HMJH' || datum.i == 'Other'"}], "mark": {"type": "text", "angle": 90, "fontSize": 6.5, "color": "black", "baseline": "middle", "align": "center"}, "encoding": {"x": {"datum": 9.23}, "text": {"field": "g"}}},
   {"transform": [{"filter": "datum.i == 'Upward LQ to HQ'"}], "mark": {"type": "text", "angle": 90, "fontSize": 6.5, "color": "black", "baseline": "middle", "align": "center"}, "encoding": {"x": {"datum": 9.23}, "y": {"field": "i", "type": "nominal", "sort": ["hdr","Constant SER","Constant SER/HI","Constant BO","Constant HMJH","Constant HQ","Constant UE","Constant PE","Constant SSE","Constant LQ","Fluctuating HQ","Fluctuating HQ and HMJH","Fluctuating LQ and HMJH","Fluctuating LQ and HQ","Fluctuating LQ","Within HQ","Between HQ and HMJH","Upward LQ to HQ","Between LQ and HMJH","Downward HQ to LQ","Within LQ","Other"], "bandPosition": 1}, "text": {"field": "g"}}}
  ]}}
]}
],
"config": {
 "font": "Liberation Sans",
 "view": {"fill": "#c9c9c9", "stroke": "#777777", "strokeWidth": 1},
 "axis": {"domain": false, "grid": true, "gridColor": "white", "gridWidth": 0.8, "tickSize": 2.5, "tickColor": "#555555", "labelColor": "black", "labelPadding": 1.5, "titleFontWeight": "normal", "titleColor": "black"},
 "axisX": {"labelFontSize": 7, "titleFontSize": 7, "titlePadding": 2, "labelOverlap": false},
 "axisY": {"labelFontSize": 6},
 "legend": {"orient": "bottom", "direction": "horizontal", "titleOrient": "left", "offset": 6, "strokeColor": "#222222", "fillColor": "white", "padding": 2, "labelFontSize": 5, "titleFontSize": 5, "titleFontWeight": "normal", "titleLimit": 300, "titlePadding": 3, "symbolSize": 14, "labelOffset": 2, "symbolFillColor": "black", "symbolStrokeColor": "black", "columnPadding": 3, "layout": {"bottom": {"anchor": "middle"}}},
 "title": {"fontSize": 10, "fontWeight": "bold", "anchor": "middle", "offset": 3, "color": "black"},
 "header": {"titleColor": "black"}
}
}
